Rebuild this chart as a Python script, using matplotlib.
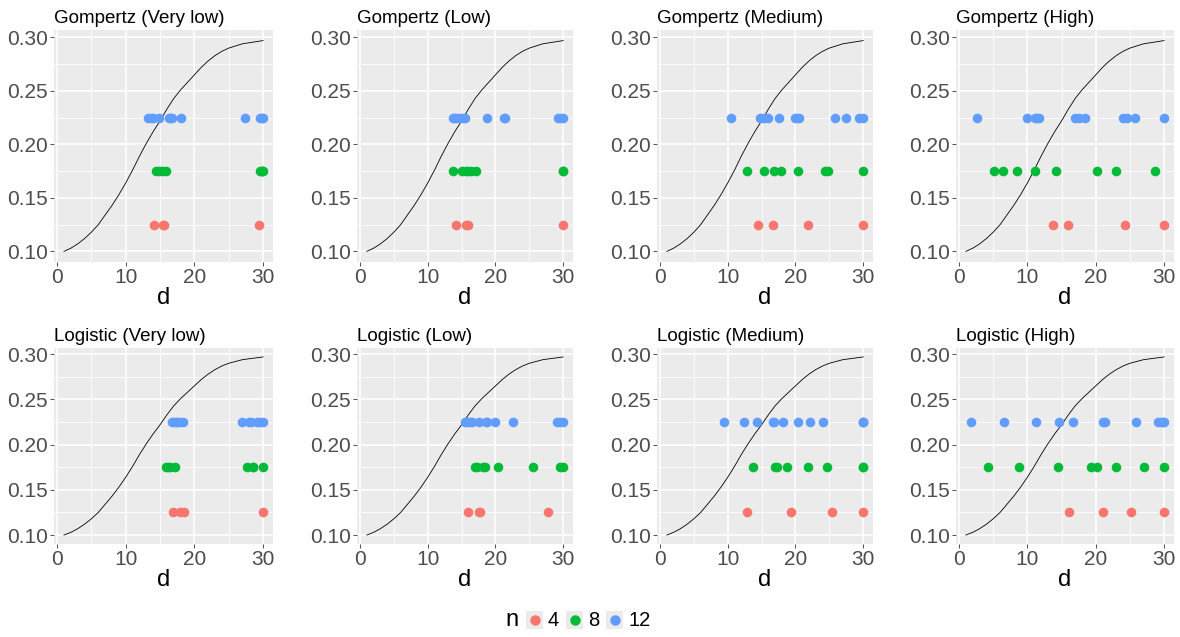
import numpy as np
import matplotlib
matplotlib.use("Agg")
import matplotlib.pyplot as plt
from matplotlib.patches import Rectangle

plt.rcParams['font.family'] = ['Liberation Sans', 'DejaVu Sans']

# panel titles, in drawing order (row 1 then row 2)
titles = ["Gompertz (Very low)", "Gompertz (Low)", "Gompertz (Medium)", "Gompertz (High)",
          "Logistic (Very low)", "Logistic (Low)", "Logistic (Medium)", "Logistic (High)"]

n_levels = [4, 8, 12]
n_yval = [0.125, 0.175, 0.225]
n_cols = ["#F8766D", "#00BA38", "#619CFF"]

# d values of the points for each panel
d_n4 = [
    [14.1, 15.4, 15.5, 29.4],
    [14.2, 15.6, 15.9, 29.95],
    [14.4, 16.7, 21.9, 30.0],
    [13.7, 15.9, 24.3, 30.0],
    [16.9, 17.9, 18.5, 30.0],
    [16.0, 17.6, 17.7, 27.7],
    [12.9, 19.4, 25.4, 30.0],
    [16.1, 21.1, 25.1, 30.0],
]
d_n8 = [
    [14.4, 14.8, 15.3, 15.9, 29.6, 29.8, 29.9, 30.0],
    [13.7, 15.1, 15.6, 15.9, 16.4, 17.1, 29.9, 30.0],
    [12.8, 15.4, 16.8, 17.9, 20.4, 24.3, 24.8, 30.0],
    [5.1, 6.4, 8.5, 11.1, 14.2, 20.2, 22.9, 28.7],
    [15.9, 16.2, 16.4, 17.2, 27.7, 28.5, 28.6, 30.0],
    [17.0, 17.2, 18.2, 18.5, 20.3, 25.5, 29.6, 30.0],
    [13.7, 17.0, 17.2, 18.8, 21.8, 24.7, 29.9, 30.0],
    [4.2, 8.8, 14.5, 19.3, 20.2, 23.0, 27.1, 30.0],
]
d_n12 = [
    [13.3, 13.7, 14.0, 14.8, 16.3, 16.5, 16.8, 18.0, 27.3, 29.6, 29.8, 30.0],
    [13.7, 13.9, 14.2, 14.7, 15.2, 15.5, 18.7, 21.2, 21.4, 29.2, 29.7, 30.0],
    [10.5, 14.8, 15.4, 15.9, 17.5, 19.9, 20.2, 20.5, 25.8, 27.4, 29.4, 30.0],
    [2.6, 9.9, 11.1, 11.4, 11.7, 17.0, 17.5, 18.4, 24.0, 24.6, 25.8, 30.0],
    [16.7, 17.1, 17.3, 17.5, 17.9, 18.3, 27.0, 27.9, 28.2, 29.1, 29.6, 30.0],
    [15.5, 16.0, 16.2, 16.5, 17.5, 18.6, 18.8, 19.9, 22.6, 29.1, 29.6, 30.0],
    [9.4, 12.4, 14.3, 16.7, 16.8, 18.1, 20.4, 22.1, 24.0, 29.9, 30.0, 30.0],
    [1.8, 6.6, 11.2, 14.6, 16.6, 21.1, 21.4, 25.9, 29.1, 29.5, 29.9, 30.0],
]

# reference curve (same in every panel)
curve_d = list(range(1, 31))
curve_y = [0.100, 0.103, 0.107, 0.112, 0.118, 0.125, 0.134, 0.143, 0.153, 0.164,
           0.176, 0.189, 0.201, 0.212, 0.222, 0.233, 0.243, 0.251, 0.258, 0.265,
           0.272, 0.278, 0.283, 0.287, 0.290, 0.292, 0.294, 0.295, 0.296, 0.297]

W, H = 1180, 637
fig = plt.figure(figsize=(W / 100, H / 100), dpi=100)

col_x = [(54, 273), (357, 573), (657, 873), (956, 1174)]
row_y = [(30, 262), (348, 544)]

def px_axes(x0, x1, y0, y1):
    return fig.add_axes([x0 / W, 1 - y1 / H, (x1 - x0) / W, (y1 - y0) / H])

for i, title in enumerate(titles):
    r, c = divmod(i, 4)
    ax = px_axes(col_x[c][0], col_x[c][1], row_y[r][0], row_y[r][1])
    ax.set_facecolor("#EBEBEB")
    for s in ax.spines.values():
        s.set_visible(False)
    ax.set_xlim(-0.45, 31.45)
    ax.set_ylim(0.0901, 0.3069)
    ax.set_xticks([0, 10, 20, 30])
    ax.set_yticks([0.10, 0.15, 0.20, 0.25, 0.30])
    ax.set_yticklabels(["0.10", "0.15", "0.20", "0.25", "0.30"])
    ax.set_xticks([5, 15, 25], minor=True)
    ax.set_yticks([0.125, 0.175, 0.225, 0.275], minor=True)
    ax.grid(which="major", color="white", linewidth=1.1)
    ax.grid(which="minor", color="white", linewidth=0.55)
    ax.set_axisbelow(True)
    ax.tick_params(which="major", length=2.75, width=0.6, color="#333333",
                   labelsize=15, labelcolor="#4D4D4D", pad=1.5)
    ax.tick_params(which="minor", length=0)

    ax.plot(curve_d, curve_y, color="black", linewidth=0.6, zorder=3)
    for dl, yv, colr in zip([d_n4[i], d_n8[i], d_n12[i]], n_yval, n_cols):
        ax.scatter(dl, [yv] * len(dl), s=48, color=colr, linewidths=0, zorder=4)

    ax.set_title(title, loc="left", fontsize=13.5, pad=5, x=0.0)
    ax.set_xlabel("d", fontsize=17, labelpad=0)

# legend at the bottom, drawn by hand (title to the left of the keys)
lax = fig.add_axes([0, 0, 1, 1], facecolor="none")
lax.set_xlim(0, W)
lax.set_ylim(H, 0)
lax.axis("off")
yc = 620
lax.text(512, yc, "n", fontsize=17, ha="center", va="center")
key_x = [526, 566, 606]
for kx, n, colr in zip(key_x, n_levels, n_cols):
    lax.add_patch(Rectangle((kx, yc - 9), 17, 18, facecolor="#EBEBEB", edgecolor="none"))
    lax.plot([kx + 8.5], [yc], marker="o", markersize=6.5, color=colr, linestyle="")
    lax.text(kx + 22, yc, str(n), fontsize=14.5, ha="left", va="center")

fig.savefig("out.png", dpi=100)
